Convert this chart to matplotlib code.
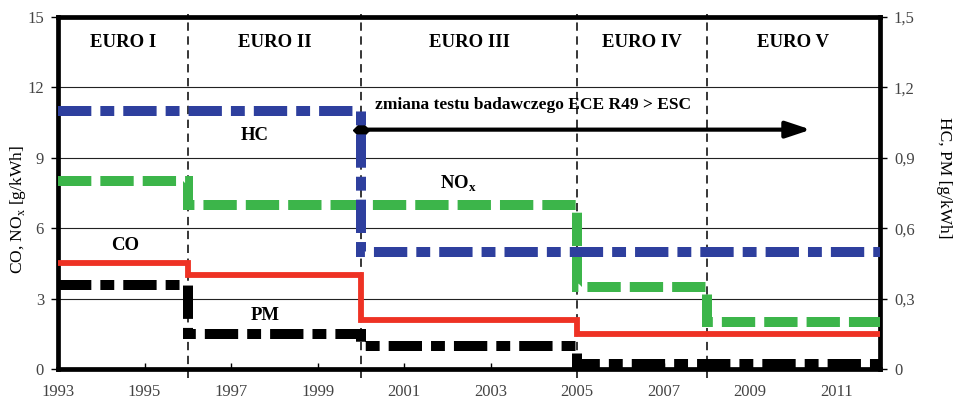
import matplotlib
matplotlib.use("Agg")
import matplotlib.pyplot as plt

plt.rcParams['font.family'] = ['Liberation Serif', 'DejaVu Serif']
plt.rcParams['mathtext.fontset'] = 'custom'
plt.rcParams['mathtext.rm'] = 'Liberation Serif'
plt.rcParams['mathtext.bf'] = 'Liberation Serif:bold'
plt.rcParams['lines.scale_dashes'] = False
plt.rcParams['lines.dash_joinstyle'] = 'miter'
plt.rcParams['lines.solid_joinstyle'] = 'miter'

# stages of the norm (start year of each), chart ends in 2012
stages = ['EURO I', 'EURO II', 'EURO III', 'EURO IV', 'EURO V']
stage_start = [1993, 1996, 2000, 2005, 2008]
year_end = 2012

# left axis [g/kWh]
co = [4.5, 4.0, 2.1, 1.5, 1.5]
nox = [8.0, 7.0, 7.0, 3.5, 2.0]
# right axis [g/kWh]
hc = [1.1, 1.1, 0.5, 0.5, 0.5]
pm = [0.36, 0.15, 0.10, 0.02, 0.02]

x_ticks = [1993, 1995, 1997, 1999, 2001, 2003, 2005, 2007, 2009, 2011]
left_ticks = [0, 3, 6, 9, 12, 15]
right_ticks = [0, 0.3, 0.6, 0.9, 1.2, 1.5]
right_labels = ['0', '0,3', '0,6', '0,9', '1,2', '1,5']

test_change_year = 2000
test_change_text = 'zmiana testu badawczego ECE R49 > ESC'

xs = stage_start + [year_end]


def steps(vals):
    return vals + [vals[-1]]


fig = plt.figure(figsize=(9.54, 4.01), dpi=100)
ax = fig.add_axes([58 / 954, 32 / 401, 822 / 954, 352 / 401])
ax2 = ax.twinx()

# grid + stage borders
ax.grid(axis='y', color='#222222', lw=0.8, zorder=0)
for y in stage_start[1:]:
    ax.axvline(y, ymin=-0.025, ymax=1.008, color='black', lw=1.1,
               dashes=(6, 4), clip_on=False, zorder=1)

ax.step(xs, steps(nox), where='post', color='#3cb54a', lw=7.2,
        dashes=(24, 6.5), zorder=3)
ax.step(xs, steps(co), where='post', color='#ee3224', lw=4.2, zorder=4)
ax2.step(xs, steps(hc), where='post', color='#2e3f9e', lw=7.2,
         dashes=(24, 6.5, 10, 6.5), zorder=3)
ax2.step(xs, steps(pm), where='post', color='black', lw=7.2,
         dashes=(24, 6.5, 10, 6.5), zorder=3)

ax.set_xlim(stage_start[0], year_end)
ax.set_ylim(0, 15)
ax2.set_ylim(0, 1.5)

ax.set_xticks(x_ticks)
ax.set_yticks(left_ticks)
ax2.set_yticks(right_ticks)
ax2.set_yticklabels(right_labels)

ax.tick_params(axis='x', direction='in', length=4, width=1, pad=11,
               labelsize=12, labelcolor='#444444')
ax.tick_params(axis='y', direction='out', length=5, width=1, pad=5,
               labelsize=12, labelcolor='#444444')
ax2.tick_params(axis='y', direction='out', length=5, width=1, pad=5,
                labelsize=12, labelcolor='#444444')

for s in ax.spines.values():
    s.set_linewidth(3.4)
for s in ax2.spines.values():
    s.set_visible(False)

# stage names
for name, a, b in zip(stages, stage_start, stage_start[1:] + [year_end]):
    ax.text((a + b) / 2, 13.9, name, ha='center', va='center',
            fontsize=13.5, fontweight='bold')

# series labels
ax.text(1997.55, 9.97, 'HC', ha='center', va='center', fontsize=13.5, fontweight='bold')
ax.text(2002.25, 7.9, r'NO$_\mathregular{x}$', ha='center', va='center',
        fontsize=13.5, fontweight='bold')
ax.text(1994.55, 5.28, 'CO', ha='center', va='center', fontsize=13.5, fontweight='bold')
ax.text(1997.8, 2.3, 'PM', ha='center', va='center', fontsize=13.5, fontweight='bold')

# test change arrow
ax.annotate('', xy=(2010.4, 10.2), xytext=(test_change_year, 10.2),
            arrowprops=dict(arrowstyle='-|>,head_length=1.5,head_width=0.5',
                            color='black', lw=3, shrinkA=0, shrinkB=0),
            zorder=6)
ax.plot([test_change_year], [10.2], marker='D', ms=8, color='black', zorder=7)
ax.text(2000.33, 11.25, test_change_text, ha='left', va='center',
        fontsize=12.5, fontweight='bold')

fig.text(18 / 954, 1 - 210 / 401, r'CO, NO$_\mathregular{x}$ [g/kWh]',
         rotation=90, ha='center', va='center', fontsize=12.5)
fig.text(944 / 954, 1 - 178 / 401, 'HC, PM [g/kWh]',
         rotation=270, ha='center', va='center', fontsize=12.5)

plt.savefig('out.png', dpi=100)
